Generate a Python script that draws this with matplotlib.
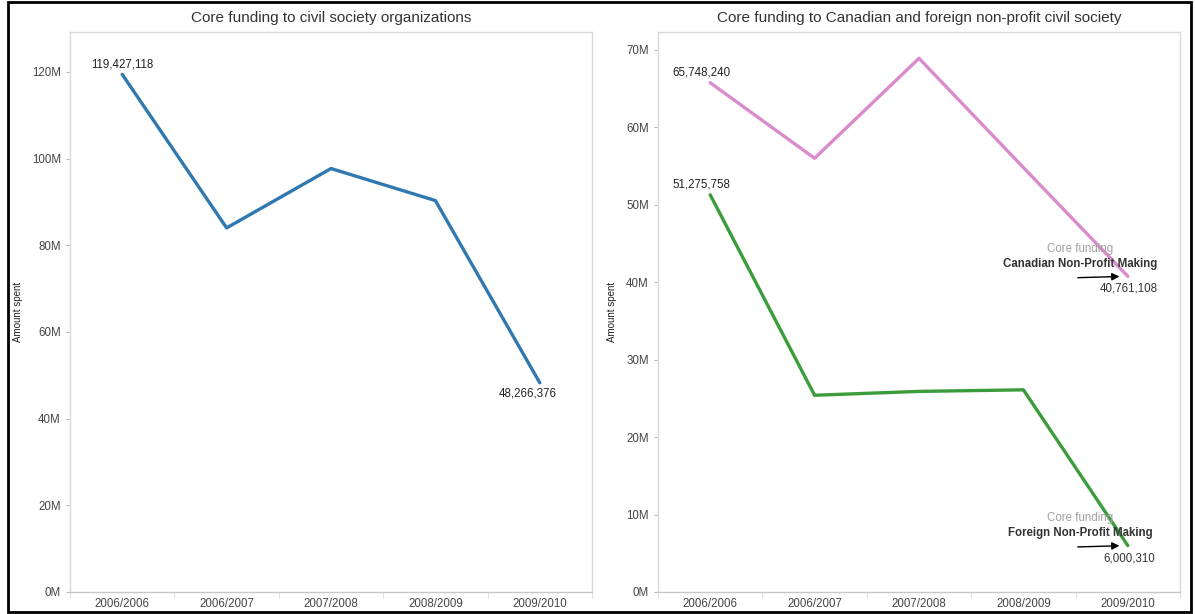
import matplotlib.pyplot as plt
from matplotlib.patches import Rectangle
from matplotlib.ticker import FuncFormatter, FixedLocator

years = ["2006/2006", "2006/2007", "2007/2008", "2008/2009", "2009/2010"]
civil_society = [119427118, 84000000, 97700000, 90300000, 48266376]
canadian_npm = [65748240, 56000000, 68900000, 54800000, 40761108]
foreign_npm = [51275758, 25400000, 25900000, 26100000, 6000310]

left_ticks = [0, 20e6, 40e6, 60e6, 80e6, 100e6, 120e6]
right_ticks = [0, 10e6, 20e6, 30e6, 40e6, 50e6, 60e6, 70e6]

spine_col = "#d9d9d9"
fs = 8.3

plt.rcParams["font.family"] = ["Liberation Sans", "DejaVu Sans"]

fig = plt.figure(figsize=(11.95, 6.14), dpi=100)
W, H = 1195, 614


def px_axes(x0, y0, x1, y1):
    return fig.add_axes([x0 / W, 1 - y1 / H, (x1 - x0) / W, (y1 - y0) / H])


def style(ax, ticks, top, title, label_x):
    x = range(len(years))
    ax.set_xlim(-0.5, len(years) - 0.5)
    ax.set_ylim(0, top)
    ax.set_xticks(list(x))
    ax.set_xticklabels(years, fontsize=fs, color="#444444")
    ax.xaxis.set_minor_locator(FixedLocator([i + 0.5 for i in range(-1, len(years))]))
    ax.tick_params(axis="x", which="major", length=0, pad=4)
    ax.tick_params(axis="x", which="minor", length=4, color=spine_col)
    ax.set_yticks(ticks)
    ax.yaxis.set_major_formatter(FuncFormatter(lambda v, p: f"{v / 1e6:.0f}M"))
    ax.tick_params(axis="y", length=3, color="#bbbbbb", labelsize=fs, labelcolor="#444444")
    for s in ax.spines.values():
        s.set_color(spine_col)
        s.set_linewidth(1)
    ax.spines["bottom"].set_color("#c8c8c8")
    ax.set_ylabel("Amount spent", fontsize=7, color="#222222")
    ax.yaxis.set_label_coords(label_x, 0.5)
    ax.set_title(title, fontsize=11, color="#333333", pad=7)


# left panel: total core funding
ax1 = px_axes(70, 32, 592, 592)
ax1.plot(range(len(years)), civil_society, color="#2f78b0", lw=2.4, solid_capstyle="round")
style(ax1, left_ticks, 129.2e6, "Core funding to civil society organizations", -0.09)
ax1.annotate(f"{civil_society[0]:,}", (0, civil_society[0]), xytext=(0, 5),
             textcoords="offset points", ha="center", fontsize=fs, color="#222222")
ax1.annotate(f"{civil_society[-1]:,}", (4, civil_society[-1]), xytext=(-9, -8),
             textcoords="offset points", ha="center", va="center", fontsize=fs, color="#222222")

# right panel: Canadian vs foreign non-profit
ax2 = px_axes(658, 32, 1180, 592)
ax2.plot(range(len(years)), canadian_npm, color="#d98bcc", lw=2.4, solid_capstyle="round")
ax2.plot(range(len(years)), foreign_npm, color="#3a9c3a", lw=2.4, solid_capstyle="round")
style(ax2, right_ticks, 72.3e6,
      "Core funding to Canadian and foreign non-profit civil society", -0.078)
ax2.annotate(f"{canadian_npm[0]:,}", (0, canadian_npm[0]), xytext=(-6, 5),
             textcoords="offset points", ha="center", fontsize=fs, color="#222222")
ax2.annotate(f"{foreign_npm[0]:,}", (0, foreign_npm[0]), xytext=(-6, 5),
             textcoords="offset points", ha="center", fontsize=fs, color="#222222")

for vals, name in [(canadian_npm, "Canadian Non-Profit Making"),
                   (foreign_npm, "Foreign Non-Profit Making")]:
    end = vals[-1]
    ax2.annotate("Core funding", (4, end), xytext=(-34, 20), textcoords="offset points",
                 ha="center", va="center", fontsize=fs, color="#a0a0a0")
    ax2.annotate(name, (4, end), xytext=(-34, 9), textcoords="offset points",
                 ha="center", va="center", fontsize=fs, fontweight="bold", color="#333333")
    ax2.annotate("", xy=(4, end), xytext=(-36, -1), textcoords="offset points",
                 arrowprops=dict(arrowstyle="-|>", color="black", lw=1,
                                 shrinkA=0, shrinkB=6, mutation_scale=11))
    ax2.annotate(f"{end:,}", (4, end), xytext=(1, -9), textcoords="offset points",
                 ha="center", va="center", fontsize=fs, color="#333333")

# outer frame
fig.patches.append(Rectangle((8 / W, 2 / H), (1191 - 8) / W, (612 - 2) / H,
                             transform=fig.transFigure, fill=False,
                             edgecolor="black", lw=2))

fig.savefig("out.png", dpi=100)
